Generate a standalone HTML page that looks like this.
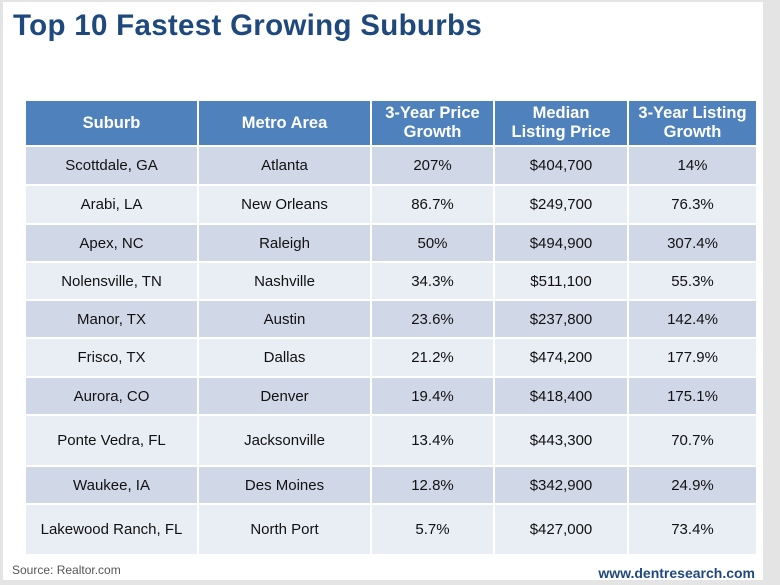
<!DOCTYPE html>
<html><head><meta charset="utf-8"><style>
html,body{margin:0;padding:0}
body{width:780px;height:585px;background:#e4e4e4;position:relative;overflow:hidden;font-family:"Liberation Sans",Arial,sans-serif}
#slide{position:absolute;left:3px;top:2px;width:760px;height:578px;background:#fff}
h1{position:absolute;left:10px;top:7px;margin:0;font-size:29.5px;font-weight:bold;color:#1f497d;letter-spacing:0.3px}
table{position:absolute;left:21px;top:97px;border-collapse:collapse;table-layout:fixed}
td,th{border:2px solid #fff;text-align:center;padding:0;font-size:15px;color:#111}
th{background:#4f81bd;color:#fff;font-size:16.5px;font-weight:bold;line-height:19px;height:44px}
tr.o td{background:#d0d8e8}
tr.e td{background:#e9edf4}
.src{position:absolute;left:9px;top:561px;font-size:12px;color:#555}
.www{position:absolute;right:8px;top:563px;font-size:14px;font-weight:bold;color:#1f497d}
</style></head><body>
<div id="slide">
<h1>Top 10 Fastest Growing Suburbs</h1>
<table>
<colgroup><col style="width:173px"><col style="width:173px"><col style="width:123px"><col style="width:134px"><col style="width:129px"></colgroup>
<tr><th>Suburb</th><th>Metro Area</th><th>3-Year Price<br>Growth</th><th>Median<br>Listing Price</th><th>3-Year Listing<br>Growth</th></tr>
<tr class="o" style="height:39px"><td>Scottdale, GA</td><td>Atlanta</td><td>207%</td><td>$404,700</td><td>14%</td></tr>
<tr class="e" style="height:39px"><td>Arabi, LA</td><td>New Orleans</td><td>86.7%</td><td>$249,700</td><td>76.3%</td></tr>
<tr class="o" style="height:38px"><td>Apex, NC</td><td>Raleigh</td><td>50%</td><td>$494,900</td><td>307.4%</td></tr>
<tr class="e" style="height:38px"><td>Nolensville, TN</td><td>Nashville</td><td>34.3%</td><td>$511,100</td><td>55.3%</td></tr>
<tr class="o" style="height:38px"><td>Manor, TX</td><td>Austin</td><td>23.6%</td><td>$237,800</td><td>142.4%</td></tr>
<tr class="e" style="height:39px"><td>Frisco, TX</td><td>Dallas</td><td>21.2%</td><td>$474,200</td><td>177.9%</td></tr>
<tr class="o" style="height:38px"><td>Aurora, CO</td><td>Denver</td><td>19.4%</td><td>$418,400</td><td>175.1%</td></tr>
<tr class="e" style="height:51px"><td>Ponte Vedra, FL</td><td>Jacksonville</td><td>13.4%</td><td>$443,300</td><td>70.7%</td></tr>
<tr class="o" style="height:38px"><td>Waukee, IA</td><td>Des Moines</td><td>12.8%</td><td>$342,900</td><td>24.9%</td></tr>
<tr class="e" style="height:51px"><td>Lakewood Ranch, FL</td><td>North Port</td><td>5.7%</td><td>$427,000</td><td>73.4%</td></tr>
</table>
<div class="src">Source: Realtor.com</div>
<div class="www">www.dentresearch.com</div>
</div>
</body></html>
